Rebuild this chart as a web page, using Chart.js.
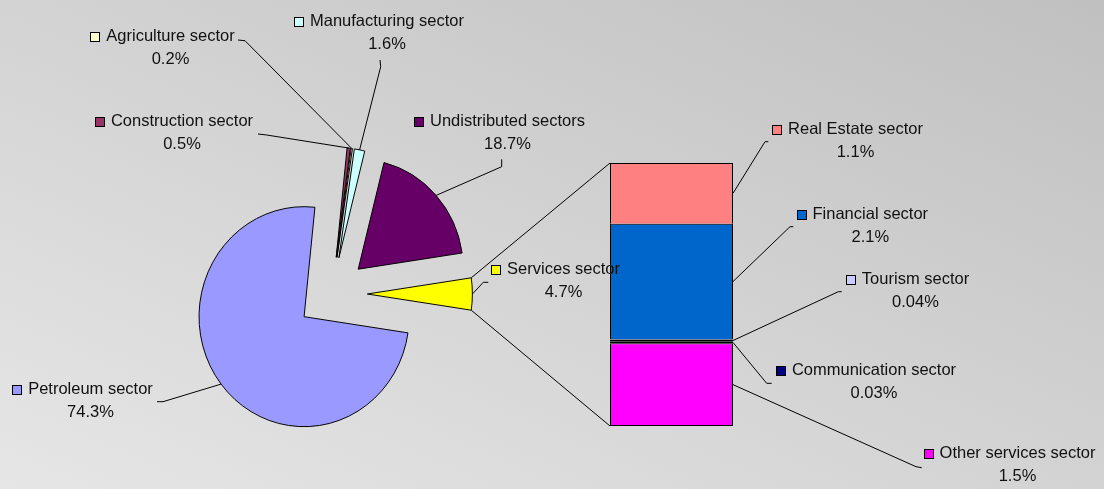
<!DOCTYPE html>
<html lang="en">
<head>
<meta charset="UTF-8">
<title>Sector shares</title>
<script src="https://cdn.jsdelivr.net/npm/chart.js"></script>
<style>
    html, body { margin: 0; padding: 0; }
    body {
        width: 1104px;
        height: 489px;
        overflow: hidden;
        position: relative;
        background: linear-gradient(to top right, #e6e6e6 0%, #d3d3d3 50%, #c0c0c0 100%);
    }
    .layer { position: absolute; left: 0; top: 0; width: 1104px; height: 489px; }
</style>
</head>
<body>
<div class="layer"><canvas id="pieChart"></canvas></div>
<div class="layer"><canvas id="barChart"></canvas></div>

<script>
// pie: main sectors, clockwise from the petroleum slice
const pieSectors = ['Petroleum sector', 'Construction sector', 'Agriculture sector', 'Manufacturing sector', 'Undistributed sectors', 'Services sector'];
const pieShares = [74.3, 0.5, 0.2, 1.6, 18.7, 4.7];
const pieColors = ['#9999ff', '#993366', '#ffffcc', '#ccffff', '#660066', '#ffff00'];

// bar: breakdown of the services slice, top to bottom
const serviceSectors = ['Real Estate sector', 'Financial sector', 'Tourism sector', 'Communication sector', 'Other services sector'];
const serviceShares = [1.1, 2.1, 0.04, 0.03, 1.5];
const serviceColors = ['#ff8080', '#0066cc', '#ccccff', '#000080', '#ff00ff'];

// layout
const PIE_RADIUS = 110;
const EXPLODE = 37;        // distance every slice is pulled out
const SQUEEZE = 0.955;     // horizontal squash of the pie
const FONT = '16.5px Arial, "Liberation Sans", sans-serif';
const LINE_GAP = 23;

// name line centre + the two leader points beside each label
const pieLabelSpots = [
    { x: 90.5,  y: 389.5, lead: [[157, 401.7], [163, 401.7]] },
    { x: 182,   y: 121.5, lead: [[258, 134], [266.7, 135]] },
    { x: 170.5, y: 36.5,  lead: [[238, 40], [245, 40.7]] },
    { x: 387,   y: 21,    lead: [[380, 60], [380.7, 66.7]] },
    { x: 507.5, y: 121,   lead: [[501.7, 159.3], [501.7, 166.7]] },
    { x: 563.5, y: 269.5, lead: [[488.3, 282.3], [483.3, 282.3]] }
];
const barLabelSpots = [
    { x: 855.5,  y: 129.5, lead: [[768.3, 141.7], [765, 141.7]] },
    { x: 870.3,  y: 214,   lead: [[793.3, 226.7], [790, 226.7]] },
    { x: 915.5,  y: 279.5, lead: [[841.7, 291.7], [838.3, 291.7]] },
    { x: 874,    y: 370.5, lead: [[771.7, 383.3], [766.7, 383.3]] },
    { x: 1017.5, y: 453.5, lead: [[921.7, 467.7], [916, 466.7]] }
];
// bar segment outlines, top to bottom (thin slivers come out solid black)
const barBorders = [
    { top: 1, left: 1, right: 1, bottom: 0 },
    { top: 1, left: 1, right: 1, bottom: 0 },
    { top: 2, left: 1, right: 1, bottom: 2 },
    { top: 2, left: 1, right: 1, bottom: 2 },
    { top: 1, left: 1, right: 1, bottom: 1 }
];

const pieTotal = pieShares.reduce((a, b) => a + b, 0);
const servicesIdx = pieSectors.indexOf('Services sector');
const servicesTotal = serviceShares.reduce((a, b) => a + b, 0);

function pieCentre(chart) {
    const a = chart.chartArea;
    return { x: (a.left + a.right) / 2, y: (a.top + a.bottom) / 2 };
}

// exploded vertex of a slice, in unsquashed coordinates
function sliceVertex(chart, arc) {
    const c = pieCentre(chart);
    const mid = (arc.startAngle + arc.endAngle) / 2;
    return { x: c.x + Math.cos(mid) * EXPLODE, y: c.y + Math.sin(mid) * EXPLODE };
}

// point on a slice's rim at a given angle, in page coordinates
function rimPoint(chart, arc, angle) {
    const c = pieCentre(chart);
    const v = sliceVertex(chart, arc);
    const x = v.x + Math.cos(angle) * arc.outerRadius;
    const y = v.y + Math.sin(angle) * arc.outerRadius;
    return { x: c.x + (x - c.x) * SQUEEZE, y: y };
}

const explodePlugin = {
    id: 'explode',
    beforeDatasetsDraw(chart) {
        const meta = chart.getDatasetMeta(0);
        meta.data.forEach(arc => {
            const v = sliceVertex(chart, arc);
            arc.x = v.x;
            arc.y = v.y;
        });
        const c = pieCentre(chart);
        const ctx = chart.ctx;
        ctx.save();
        ctx.translate(c.x, 0);
        ctx.scale(SQUEEZE, 1);
        ctx.translate(-c.x, 0);
    },
    afterDatasetsDraw(chart) {
        chart.ctx.restore();
    }
};

const pieChart = new Chart(document.getElementById('pieChart'), {
    type: 'pie',
    data: {
        labels: pieSectors,
        datasets: [{
            data: pieShares,
            backgroundColor: pieColors,
            borderColor: '#000',
            borderWidth: 1,
            clip: false
        }]
    },
    options: {
        responsive: true,
        maintainAspectRatio: false,
        animation: false,
        events: [],
        radius: PIE_RADIUS,
        rotation: 90 + pieShares[servicesIdx] / pieTotal * 180,
        layout: { padding: { left: 222, right: 662, top: 184, bottom: 85 } },
        plugins: { legend: { display: false }, tooltip: { enabled: false } }
    },
    plugins: [explodePlugin]
});

function drawLabel(ctx, spot, name, value, color, markPt) {
    ctx.save();
    ctx.strokeStyle = '#000';
    ctx.lineWidth = 1;
    ctx.beginPath();
    ctx.moveTo(spot.lead[0][0], spot.lead[0][1]);
    ctx.lineTo(spot.lead[1][0], spot.lead[1][1]);
    ctx.lineTo(markPt.x, markPt.y);
    ctx.stroke();

    ctx.font = FONT;
    ctx.fillStyle = '#111';
    ctx.textAlign = 'center';
    ctx.textBaseline = 'middle';
    ctx.fillText(name, spot.x, spot.y);
    ctx.fillText(value + '%', spot.x, spot.y + LINE_GAP);

    // legend key in front of the name
    const w = ctx.measureText(name).width;
    const bx = Math.round(spot.x - w / 2 - 16) + 0.5;
    const by = Math.round(spot.y - 4.5) + 0.5;
    ctx.fillStyle = color;
    ctx.fillRect(bx, by, 9, 9);
    ctx.strokeRect(bx, by, 9, 9);
    ctx.restore();
}

const labelPlugin = {
    id: 'sectorLabels',
    afterDraw(chart) {
        const ctx = chart.ctx;
        const pieMeta = pieChart.getDatasetMeta(0);
        const barMetas = serviceSectors.map((s, i) => chart.getDatasetMeta(serviceSectors.length - 1 - i));

        // lines tying the services slice to the bar
        const svc = pieMeta.data[servicesIdx];
        const tipTop = rimPoint(pieChart, svc, svc.startAngle);
        const tipBot = rimPoint(pieChart, svc, svc.endAngle);
        const topBar = barMetas[0].data[0];
        const botBar = barMetas[barMetas.length - 1].data[0];
        const barLeft = topBar.x - topBar.width / 2;
        ctx.save();
        ctx.strokeStyle = '#000';
        ctx.lineWidth = 1;
        ctx.beginPath();
        ctx.moveTo(tipTop.x, tipTop.y);
        ctx.lineTo(barLeft, topBar.y);
        ctx.moveTo(tipBot.x, tipBot.y);
        ctx.lineTo(barLeft, botBar.base);
        ctx.stroke();
        ctx.restore();

        pieSectors.forEach((name, i) => {
            const arc = pieMeta.data[i];
            const pt = rimPoint(pieChart, arc, (arc.startAngle + arc.endAngle) / 2);
            drawLabel(ctx, pieLabelSpots[i], name, pieShares[i], pieColors[i], pt);
        });

        serviceSectors.forEach((name, i) => {
            const bar = barMetas[i].data[0];
            const pt = { x: bar.x + bar.width / 2, y: (bar.y + bar.base) / 2 };
            drawLabel(ctx, barLabelSpots[i], name, serviceShares[i], serviceColors[i], pt);
        });
    }
};

// stacked bar, bottom segment first
const barDatasets = serviceSectors.map((name, i) => ({
    label: name,
    data: [serviceShares[i]],
    backgroundColor: serviceColors[i],
    borderColor: '#000',
    borderWidth: barBorders[i],
    borderSkipped: false,
    inflateAmount: 0,
    barPercentage: 1,
    categoryPercentage: 1
})).reverse();

new Chart(document.getElementById('barChart'), {
    type: 'bar',
    data: { labels: ['Services sector'], datasets: barDatasets },
    options: {
        responsive: true,
        maintainAspectRatio: false,
        animation: false,
        events: [],
        layout: { padding: { left: 610, right: 371, top: 163, bottom: 63 } },
        plugins: { legend: { display: false }, tooltip: { enabled: false } },
        scales: {
            x: { display: false, stacked: true },
            y: { display: false, stacked: true, min: 0, max: servicesTotal }
        }
    },
    plugins: [labelPlugin]
});
</script>
</body>
</html>
